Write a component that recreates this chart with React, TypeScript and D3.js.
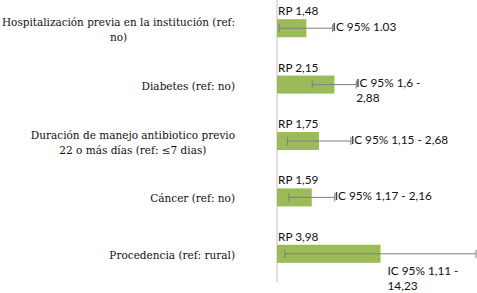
import React, { useEffect, useRef } from "react";
import * as d3 from "d3";

const categories = [
  "Hospitalización previa en la institución (ref: no)",
  "Diabetes (ref: no)",
  "Duración de manejo antibiotico previo 22 o más días (ref: ≤7 dias)",
  "Cáncer (ref: no)",
  "Procedencia (ref: rural)",
];
const categoryLines = [
  ["Hospitalización previa en la institución (ref:", "no)"],
  ["Diabetes (ref: no)"],
  ["Duración de manejo antibiotico previo", "22 o más días (ref: ≤7 dias)"],
  ["Cáncer (ref: no)"],
  ["Procedencia (ref: rural)"],
];
const rp = [1.48, 2.15, 1.75, 1.59, 3.98];
const ciLow = [1.03, 1.6, 1.15, 1.17, 1.11];
const ciHigh = [2.1, 2.88, 2.68, 2.16, 14.23];
const rpLabels = ["RP 1,48", "RP 2,15", "RP 1,75", "RP 1,59", "RP 3,98"];
const ciLabels = [
  ["IC 95% 1.03"],
  ["IC 95% 1,6 -", "2,88"],
  ["IC 95% 1,15 - 2,68"],
  ["IC 95% 1,17 - 2,16"],
  ["IC 95% 1,11 -", "14,23"],
];

const W = 477;
const H = 293;

export default function App() {
  const ref = useRef<SVGSVGElement>(null);

  useEffect(() => {
    const svg = d3.select(ref.current);
    svg.selectAll("*").remove();

    const x = d3.scaleLog().domain([1, 14.23]).range([277, 476]);
    const y = d3
      .scaleBand<string>()
      .domain(categories)
      .range([0, 282])
      .paddingInner(0.68)
      .paddingOuter(0.34);

    const catFont = "'DejaVu Serif', serif";
    const numFont = "Lato, 'Open Sans', sans-serif";
    const textColor = "#111";

    // axis line
    svg
      .append("line")
      .attr("x1", x(1))
      .attr("x2", x(1))
      .attr("y1", 0)
      .attr("y2", 282)
      .attr("stroke", "#d9d9d9")
      .attr("stroke-width", 1.5);

    // bars
    svg
      .selectAll("rect.bar")
      .data(categories)
      .enter()
      .append("rect")
      .attr("class", "bar")
      .attr("x", x(1))
      .attr("y", (d) => y(d)!)
      .attr("width", (d, i) => x(rp[i]) - x(1))
      .attr("height", y.bandwidth())
      .attr("fill", "#9bbb59");

    // error bars
    categories.forEach((c, i) => {
      const cy = y(c)! + y.bandwidth() / 2;
      const g = svg.append("g").attr("stroke", "#7f7f7f").attr("stroke-width", 1);
      g.append("line")
        .attr("x1", x(ciLow[i]))
        .attr("x2", x(ciHigh[i]))
        .attr("y1", cy)
        .attr("y2", cy);
      [ciLow[i], ciHigh[i]].forEach((v) => {
        g.append("line")
          .attr("x1", x(v))
          .attr("x2", x(v))
          .attr("y1", cy - 4)
          .attr("y2", cy + 4);
      });
    });

    // category labels
    const maxLabelW = 233;
    categories.forEach((c, i) => {
      const cy = y(c)! + y.bandwidth() / 2;
      const lines = categoryLines[i];
      const t = svg
        .append("text")
        .attr("font-family", catFont)
        .attr("font-size", 10.5)
        .attr("fill", textColor);
      const lh = 15;
      const y0 = cy - ((lines.length - 1) * lh) / 2 + 1;
      const spans = lines.map((l, k) =>
        t
          .append("tspan")
          .attr("y", y0 + k * lh)
          .attr("dominant-baseline", "central")
          .text(l)
      );
      const widths = spans.map((s) => (s.node() as SVGTSpanElement).getComputedTextLength());
      widths.forEach((w, k) => {
        if (w > maxLabelW) {
          spans[k].attr("textLength", maxLabelW).attr("lengthAdjust", "spacingAndGlyphs");
          widths[k] = maxLabelW;
        }
      });
      const maxW = Math.max(...widths);
      const cx = 235 - maxW / 2;
      spans.forEach((s) => s.attr("x", cx).attr("text-anchor", "middle"));
    });

    // RP labels
    categories.forEach((c, i) => {
      svg
        .append("text")
        .attr("x", 278)
        .attr("y", y(c)! - 4)
        .attr("font-family", numFont)
        .attr("font-size", 11.8)
        .attr("fill", textColor)
        .text(rpLabels[i]);
    });

    // CI labels
    categories.forEach((c, i) => {
      const cy = y(c)! + y.bandwidth() / 2;
      const lines = ciLabels[i];
      const t = svg
        .append("text")
        .attr("font-family", numFont)
        .attr("font-size", 11.8)
        .attr("fill", textColor);
      let tx = x(ciHigh[i]);
      let ty = cy - 2;
      if (tx + 60 > W) {
        tx = x(rp[i]) + 7;
        ty = y(c)! + y.bandwidth() + 8;
      }
      lines.forEach((l, k) => {
        t.append("tspan")
          .attr("x", tx)
          .attr("y", ty + k * 15)
          .attr("dominant-baseline", "central")
          .text(l);
      });
    });
  }, []);

  return (
    <svg
      ref={ref}
      width={W}
      height={H}
      style={{ position: "absolute", left: 0, top: 0, background: "#fff" }}
    />
  );
}
